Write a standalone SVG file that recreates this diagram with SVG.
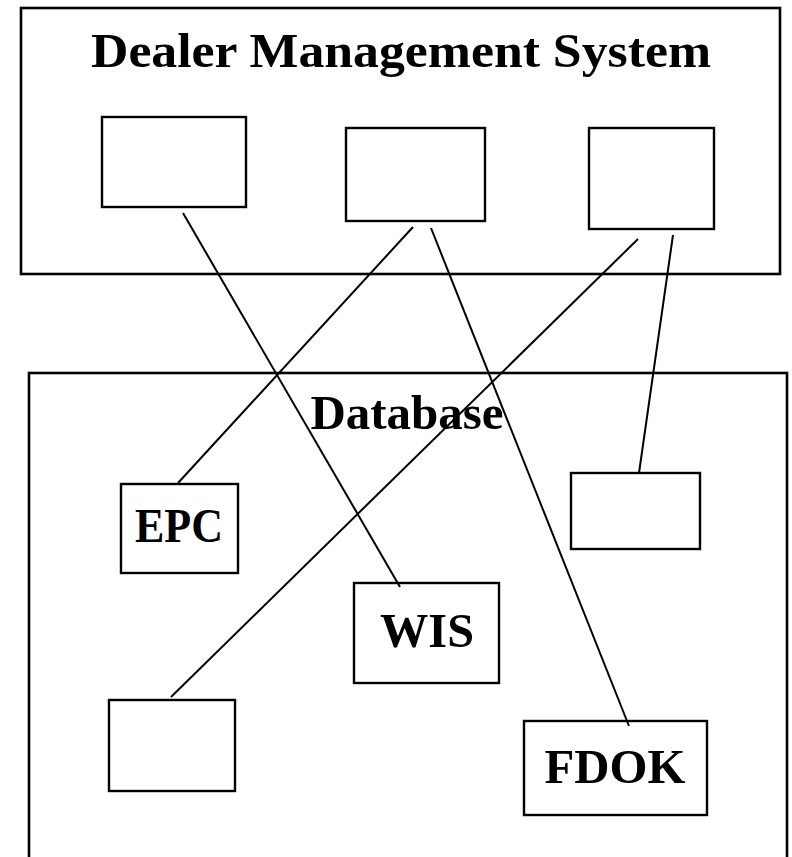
<svg xmlns="http://www.w3.org/2000/svg" width="792" height="857" viewBox="0 0 792 857">
  <style>
    .frame { fill: #fff; stroke: #000; stroke-width: 2.6; }
    .box { fill: #fff; stroke: #000; stroke-width: 2.4; }
    .title { font-family: "Liberation Serif", "Times New Roman", serif; font-weight: bold; font-size: 49px; fill: #000; text-anchor: middle; }
    .label { font-family: "Liberation Serif", "Times New Roman", serif; font-weight: bold; font-size: 48px; fill: #000; text-anchor: middle; }
    .link { stroke: #000; stroke-width: 2; fill: none; }
  </style>
  <rect width="792" height="857" fill="#fff"/>

  <!-- Dealer Management System container -->
  <g id="dms">
    <rect class="frame" x="21" y="8" width="759" height="266"/>
    <text class="title" x="401" y="67" textLength="620" lengthAdjust="spacingAndGlyphs">Dealer Management System</text>
  </g>
  <g id="dms-module-1"><rect class="box" x="102" y="117" width="144" height="90"/></g>
  <g id="dms-module-2"><rect class="box" x="346" y="128" width="139" height="93"/></g>
  <g id="dms-module-3"><rect class="box" x="589" y="128" width="125" height="101"/></g>

  <!-- Database container -->
  <g id="database">
    <rect class="frame" x="29" y="373" width="758" height="500"/>
    <text class="title" x="407" y="429" textLength="193" lengthAdjust="spacingAndGlyphs">Database</text>
  </g>
  <g id="epc">
    <rect class="box" x="121" y="484" width="117" height="89"/>
    <text class="label" x="179" y="542" textLength="88" lengthAdjust="spacingAndGlyphs">EPC</text>
  </g>
  <g id="wis">
    <rect class="box" x="354" y="583" width="145" height="100"/>
    <text class="label" x="427" y="647" textLength="94" lengthAdjust="spacingAndGlyphs">WIS</text>
  </g>
  <g id="db-module-right"><rect class="box" x="571" y="473" width="129" height="76"/></g>
  <g id="db-module-left"><rect class="box" x="109" y="700" width="126" height="91"/></g>
  <g id="fdok">
    <rect class="box" x="524" y="721" width="183" height="94"/>
    <text class="label" x="615" y="783" textLength="141" lengthAdjust="spacingAndGlyphs">FDOK</text>
  </g>

  <!-- Connectors -->
  <g id="connectors">
    <line class="link" x1="183" y1="213" x2="400" y2="587"/>
    <line class="link" x1="413" y1="227" x2="178" y2="483"/>
    <line class="link" x1="431" y1="228" x2="629" y2="726"/>
    <line class="link" x1="638" y1="239" x2="171" y2="697"/>
    <line class="link" x1="673" y1="235" x2="639" y2="473"/>
  </g>
</svg>
